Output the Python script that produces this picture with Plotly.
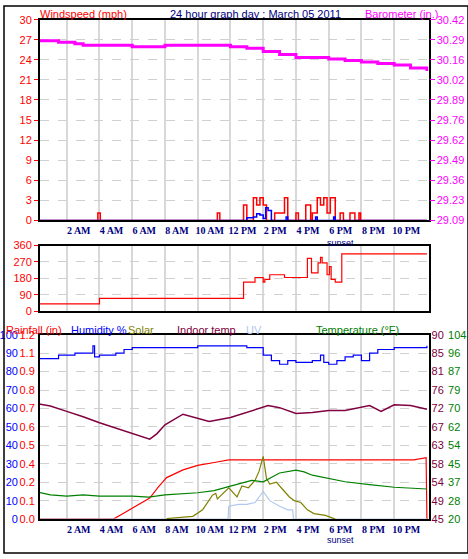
import plotly.graph_objects as go

# ---------------- data ----------------
baro_t = [0.3, 1, 1.5, 2.5, 3, 4, 6, 7, 8, 10, 11, 12, 13, 14, 15, 16, 18, 19, 20, 21, 22, 23, 24]
baro_v = [30.28, 30.28, 30.27, 30.26, 30.25, 30.25, 30.24, 30.24, 30.25, 30.25, 30.25, 30.24, 30.23, 30.21,
          30.19, 30.17, 30.16, 30.15, 30.14, 30.13, 30.12, 30.10, 30.08]

gust_t = [0.3, 3.9, 4.05, 11.2, 11.35, 12.8, 13.0, 13.4, 13.6, 13.8, 14.0, 14.2, 14.7, 15.3, 15.5, 16.0, 16.15,
          16.6, 16.9, 17.0, 17.3, 17.5, 17.7, 17.9, 18.1, 18.4, 18.7, 18.9, 19.3, 19.6, 19.85, 19.95, 24.0]
gust_v = [0, 1.1, 0, 1.1, 0, 2.3, 0, 3.4, 2.3, 3.4, 2.3, 0, 1.1, 3.4, 0, 1.1, 0,
          2.3, 0, 1.1, 3.4, 2.3, 3.4, 1.1, 3.4, 0, 1.1, 0, 1.1, 0, 1.1, 0, 0]

avg_t = [0.3, 12.9, 13.0, 13.4, 13.6, 13.8, 14.0, 14.15, 14.3, 14.5, 15.3, 15.4, 15.5, 17.1, 17.2, 17.3, 18.2, 18.3, 18.4, 24.0]
avg_v = [0, 0, 0.4, 0.5, 1.0, 0.8, 0.3, 1.9, 1.5, 0, 0, 0.5, 0, 0, 0.5, 0, 0, 0.5, 0, 0]

dir_t = [0.3, 4.0, 12.8, 13.5, 14.0, 14.1, 14.4, 15.3, 16.7, 16.95, 17.35, 17.5, 17.6, 17.9, 18.05, 18.15, 18.4, 18.8, 24.0]
dir_v = [40, 70, 160, 185, 160, 175, 200, 185, 290, 210, 265, 295, 265, 200, 245, 175, 160, 315, 315]

hum_t = [0.3, 1, 1.5, 2.5, 3.5, 3.6, 3.7, 4, 5, 5.5, 6, 8, 10, 11, 12, 13, 14, 14.5, 15, 15.5, 16, 17, 17.5,
         17.7, 18, 18.5, 19, 19.5, 20, 20.5, 21, 22, 24]
hum_v = [87, 87, 89, 90, 90, 94, 88, 89, 90, 92, 93, 93, 94, 94, 94, 93, 89, 86, 84, 86, 85, 86, 89,
         85, 84, 86, 88, 89, 86, 90, 92, 93, 94]

indoor_t = [0.3, 1, 2, 3, 4, 5, 6, 7.07, 7.5, 8, 9.1, 10, 10.7, 12, 13, 14.3, 15, 16, 17, 18, 19, 20.5, 21.2, 22, 23, 24]
indoor_v = [73.1, 72.6, 71.3, 70.0, 68.5, 67.2, 65.9, 64.5, 65.8, 68.0, 70.6, 69.6, 68.8, 69.8, 71.0, 72.7, 72.2,
            70.8, 71.0, 71.5, 71.5, 72.7, 71.3, 72.9, 72.7, 71.8]

rain_t = [0.3, 4.85, 5.5, 6.3, 7.07, 7.6, 8.1, 9.1, 10.0, 11.1, 11.9, 23.2, 23.95, 24.0]
rain_v = [0.0, 0.0, 0.04, 0.09, 0.137, 0.21, 0.27, 0.32, 0.35, 0.37, 0.385, 0.385, 0.40, 0.0]

temp_t = [0.3, 1, 2, 3, 4, 6, 7, 8, 10, 11, 12, 13.3, 14, 15, 16, 16.5, 17, 18.4, 19, 20.5, 22, 24]
temp_v = [32.2, 31, 30.5, 31, 30.5, 30.5, 30, 31, 32, 33, 35, 37.6, 37, 41, 42.3, 41.5, 40, 38, 37, 35.7, 34.5, 33.7]

solar_t = [8.1, 9.0, 9.7, 10.3, 10.9, 11.1, 11.2, 11.9, 12.4, 12.7, 13.1, 13.5, 13.75, 14.0, 14.2, 14.4, 14.8,
           15.1, 15.6, 15.9, 16.3, 16.7, 17.1, 17.8, 18.4]
solar_v = [0.3, 0.8, 1.5, 5, 13, 14, 11, 17, 12, 18, 17, 21, 26, 34, 22, 19, 20, 17, 12, 10, 9, 5, 3, 2, 0]

uv_t = [0.3, 11.85, 11.9, 12.5, 13.0, 13.5, 14.0, 14.4, 15.0, 15.5, 15.8, 15.85, 24.0]
uv_v = [0, 0, 7, 8, 8, 9, 15, 10, 7, 5, 5, 0, 0]

hour_ticks = [2, 4, 6, 8, 10, 12, 14, 16, 18, 20, 22]
hour_labels = ["2 AM", "4 AM", "6 AM", "8 AM", "10 AM", "12 PM", "2 PM", "4 PM", "6 PM", "8 PM", "10 PM"]
wind_ticks = [0, 3, 6, 9, 12, 15, 18, 21, 24, 27, 30]
baro_labels = ["29.09", "29.23", "29.36", "29.49", "29.62", "29.76", "29.89", "30.02", "30.16", "30.29", "30.42"]
dir_ticks = [0, 90, 180, 270, 360]
dir_letters = ["N", "E", "S", "W", "N"]
hum_ticks = [0, 10, 20, 30, 40, 50, 60, 70, 80, 90, 100]
rain_labels = ["0.0", "0.1", "0.2", "0.4", "0.5", "0.6", "0.7", "0.8", "0.9", "1.1", "1.2"]
indoor_labels = ["45", "49", "54", "58", "63", "67", "72", "76", "81", "85", "90"]
temp_labels = ["20", "28", "37", "45", "54", "62", "70", "79", "87", "96", "104"]

# ---------------- figure ----------------
XR = [0.35, 24.1]
FONT = "Liberation Sans"
NAVY = "#000080"
MAG = "#ff00ff"
MAROON = "#800040"
GREEN = "#008000"
OLIVE = "#808000"
UVC = "#b0c8f0"
GRID_V = "#d8d8d8"
GRID_H = "#d0d0d0"
FS = 11

fig = go.Figure()
fig.add_trace(go.Scatter(x=baro_t, y=baro_v, mode="lines", line=dict(color=MAG, width=3, shape="hv"),
                         xaxis="x", yaxis="y2"))
fig.add_trace(go.Scatter(x=gust_t, y=gust_v, mode="lines", line=dict(color="red", width=1.5, shape="hv"),
                         xaxis="x", yaxis="y"))
fig.add_trace(go.Scatter(x=avg_t, y=avg_v, mode="lines", line=dict(color="blue", width=1.5, shape="hv"),
                         xaxis="x", yaxis="y"))
fig.add_trace(go.Scatter(x=dir_t, y=dir_v, mode="lines", line=dict(color="red", width=1.2, shape="hv"),
                         xaxis="x2", yaxis="y3"))
fig.add_trace(go.Scatter(x=uv_t, y=uv_v, mode="lines", line=dict(color=UVC, width=1.2),
                         xaxis="x3", yaxis="y6"))
fig.add_trace(go.Scatter(x=solar_t, y=solar_v, mode="lines", line=dict(color=OLIVE, width=1.2),
                         xaxis="x3", yaxis="y6"))
fig.add_trace(go.Scatter(x=temp_t, y=temp_v, mode="lines", line=dict(color=GREEN, width=1.2),
                         xaxis="x3", yaxis="y8"))
fig.add_trace(go.Scatter(x=rain_t, y=rain_v, mode="lines", line=dict(color="red", width=1.2),
                         xaxis="x3", yaxis="y5"))
fig.add_trace(go.Scatter(x=indoor_t, y=indoor_v, mode="lines", line=dict(color=MAROON, width=1.5),
                         xaxis="x3", yaxis="y7"))
fig.add_trace(go.Scatter(x=hum_t, y=hum_v, mode="lines", line=dict(color="blue", width=1.2, shape="hv"),
                         xaxis="x3", yaxis="y6"))

XD = [0.077, 0.915]
D1 = [0.608, 0.975]
D2 = [0.442, 0.562]
D3 = [0.062, 0.399]


def xax(domain_anchor, labels):
    return dict(domain=XD, anchor=domain_anchor, range=XR, tickvals=hour_ticks,
                ticktext=hour_labels if labels else [""] * len(hour_ticks), tickangle=0,
                showgrid=True, gridcolor=GRID_V, gridwidth=2, zeroline=False,
                showline=True, linecolor="black", linewidth=1.5, mirror=True, ticks="",
                tickfont=dict(family="Liberation Serif", size=10, color=NAVY, weight="bold"),
                ticklabelshift=12, ticklabelstandoff=0)


def hgrid():
    return dict(showgrid=True, gridcolor=GRID_H, griddash="dash", gridwidth=1, zeroline=False)


fig.update_layout(
    width=468, height=559, margin=dict(l=0, r=0, t=0, b=0),
    paper_bgcolor="white", plot_bgcolor="white", showlegend=False,
    font=dict(family=FONT, size=FS),
    xaxis=xax("y", True),
    xaxis2=xax("y3", False),
    xaxis3=xax("y5", True),
    yaxis=dict(domain=D1, anchor="x", range=[0, 30], tickvals=wind_ticks, **hgrid(),
               showline=True, linecolor="black", linewidth=1.5, mirror=True,
               ticks="outside", ticklen=4, tickcolor="red", tickfont=dict(color="red", size=FS)),
    yaxis2=dict(overlaying="y", anchor="x", side="right", range=[29.09, 30.42],
                tickvals=[29.09 + 0.133 * i for i in range(11)], ticktext=baro_labels, showgrid=False,
                zeroline=False, ticks="outside", ticklen=5, tickcolor=MAG, tickfont=dict(color=MAG, size=FS)),
    yaxis3=dict(domain=D2, anchor="x2", range=[0, 360], tickvals=dir_ticks, **hgrid(),
                showline=True, linecolor="black", linewidth=1.5, mirror=True,
                ticks="outside", ticklen=4, tickcolor="red", tickfont=dict(color="red", size=FS)),
    yaxis4=dict(overlaying="y3", anchor="x2", side="right", range=[0, 360], tickvals=dir_ticks,
                ticktext=dir_letters, showgrid=False, zeroline=False, ticklabelstandoff=8,
                tickfont=dict(color="red", size=12)),
    yaxis5=dict(domain=D3, anchor="x3", range=[0, 1.2], **hgrid(),
                tickvals=[0.12 * i for i in range(11)], ticktext=rain_labels,
                showline=True, linecolor="black", linewidth=1.5, mirror=True,
                ticks="", tickfont=dict(color="red", size=FS), ticklabelstandoff=1),
    yaxis6=dict(overlaying="y5", anchor="free", position=0.03, side="left", range=[0, 100],
                tickvals=hum_ticks, showgrid=False, zeroline=False, ticks="",
                tickfont=dict(color="blue", size=FS), ticklabelstandoff=0),
    yaxis7=dict(overlaying="y5", anchor="x3", side="right", range=[45, 90],
                tickvals=[45 + 4.5 * i for i in range(11)], ticktext=indoor_labels, showgrid=False,
                zeroline=False, ticks="", tickfont=dict(color=MAROON, size=FS), ticklabelstandoff=2),
    yaxis8=dict(overlaying="y5", anchor="free", position=0.955, side="right", range=[20, 104],
                tickvals=[20 + 8.4 * i for i in range(11)], ticktext=temp_labels, showgrid=False,
                zeroline=False, ticks="", tickfont=dict(color=GREEN, size=FS), ticklabelstandoff=0),
)

ann = [
    dict(x=0.073, y=1.0, text="Windspeed (mph)", color="red", xanchor="left"),
    dict(x=0.543, y=1.0, text="24 hour graph day : March 05 2011", color=NAVY, xanchor="center"),
    dict(x=0.94, y=1.0, text="Barometer (in.)", color=MAG, xanchor="right"),
    dict(x=0.0, y=0.422, text="Rainfall (in)", color="red", xanchor="left"),
    dict(x=0.14, y=0.422, text="Humidity %", color="blue", xanchor="left"),
    dict(x=0.262, y=0.422, text="Solar", color=OLIVE, xanchor="left"),
    dict(x=0.368, y=0.422, text="Indoor temp", color=MAROON, xanchor="left"),
    dict(x=0.518, y=0.422, text="UV", color=UVC, xanchor="left"),
    dict(x=0.668, y=0.422, text="Temperature (°F)", color=GREEN, xanchor="left"),
]
for a in ann:
    fig.add_annotation(x=a["x"], y=a["y"], xref="paper", yref="paper", text=a["text"], showarrow=False,
                       xanchor=a["xanchor"], yanchor="top", font=dict(family=FONT, size=FS, color=a["color"]))
for yy in [0.580, 0.036]:
    fig.add_annotation(x=0.725, y=yy, xref="paper", yref="paper", text="sunset", showarrow=False,
                       xanchor="center", yanchor="top", font=dict(family=FONT, size=9, color=NAVY))
fig.add_shape(type="rect", xref="paper", yref="paper", x0=0, y0=0, x1=1, y1=1,
              line=dict(color="black", width=1.5))

fig.write_html("out.html", config={"displayModeBar": False},
               post_script="document.body.style.margin='0';document.body.style.overflow='hidden';")
